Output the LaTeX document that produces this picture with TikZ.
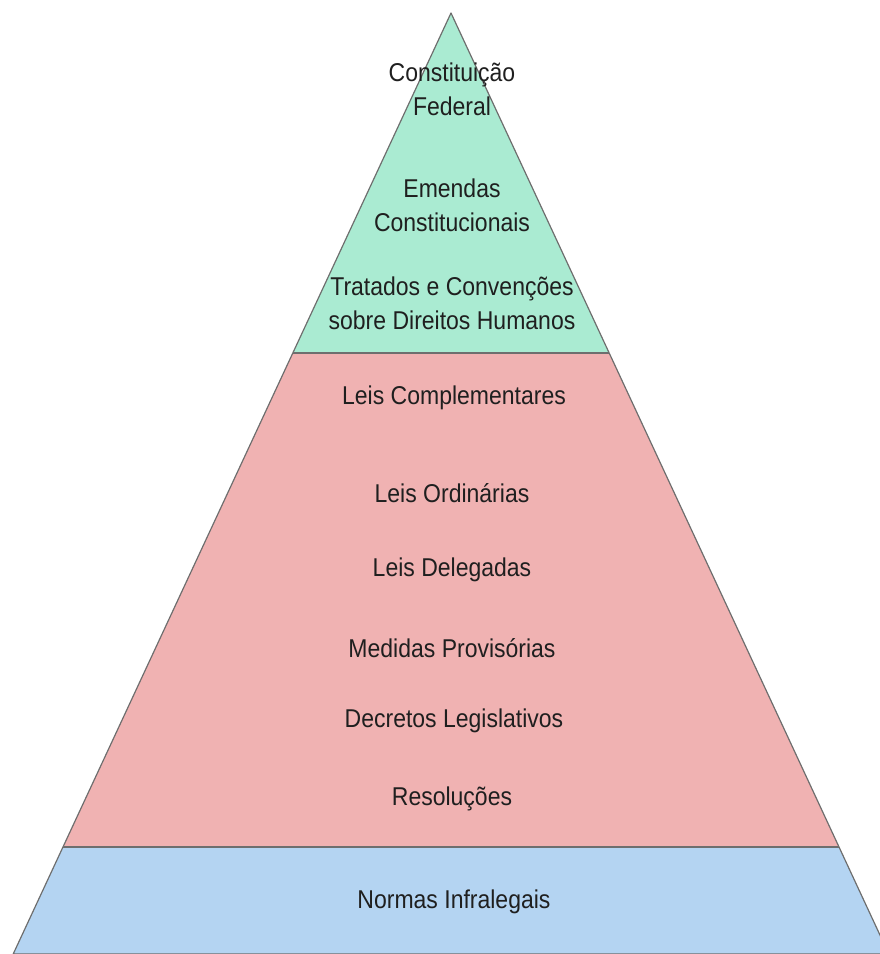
\documentclass[tikz,border=0pt]{standalone}
\usepackage{fontspec}
\setmainfont{Liberation Sans}
\usepackage[svgnames]{xcolor}
\usetikzlibrary{calc}

\definecolor{topgreen}{RGB}{170,235,210}
\definecolor{midred}{RGB}{240,178,178}
\definecolor{lowblue}{RGB}{180,212,242}
\definecolor{edgegray}{RGB}{110,110,110}

\begin{document}
\begin{tikzpicture}[x=1pt, y=-1pt,
    level/.style={font=\fontsize{23}{30.5}\selectfont, text=black!88, align=center, inner sep=0pt, yscale=1.12}]
    \useasboundingbox (0,0) rectangle (880,954);
    \clip (0,0) rectangle (880,954);
    \coordinate (A) at (451,13);
    \coordinate (BL) at (13.2,954);
    \coordinate (BR) at (888.8,954);
    \coordinate (L1) at ($(A)!0.3613!(BL)$);
    \coordinate (R1) at ($(A)!0.3613!(BR)$);
    \coordinate (L2) at ($(A)!0.8863!(BL)$);
    \coordinate (R2) at ($(A)!0.8863!(BR)$);
    \fill[topgreen] (A) -- (L1) -- (R1) -- cycle;
    \fill[midred] (L1) -- (L2) -- (R2) -- (R1) -- cycle;
    \fill[lowblue] (L2) -- (BL) -- (BR) -- (R2) -- cycle;
    \draw[edgegray, line width=1.2pt, line join=round] (A) -- (BL) -- (BR) -- cycle;
    \draw[edgegray, line width=1.2pt] (L1) -- (R1);
    \draw[edgegray, line width=1.2pt] (L2) -- (R2);
    \node[level] (cf) at (452,89) {Constituição\\Federal};
    \node[level] (ec) at (452,205) {Emendas\\Constitucionais};
    \node[level] (td) at (452,303) {Tratados e Convenções\\sobre Direitos Humanos};
    \node[level] (lc) at (454,398) {Leis Complementares};
    \node[level] (lo) at (452,493) {Leis Ordinárias};
    \node[level] (ld) at (452,570) {Leis Delegadas};
    \node[level] (mp) at (452,648) {Medidas Provisórias};
    \node[level] (dl) at (454,721) {Decretos Legislativos};
    \node[level] (rs) at (452,799) {Resoluções};
    \node[level] (ni) at (454,902) {Normas Infralegais};
\end{tikzpicture}
\end{document}
